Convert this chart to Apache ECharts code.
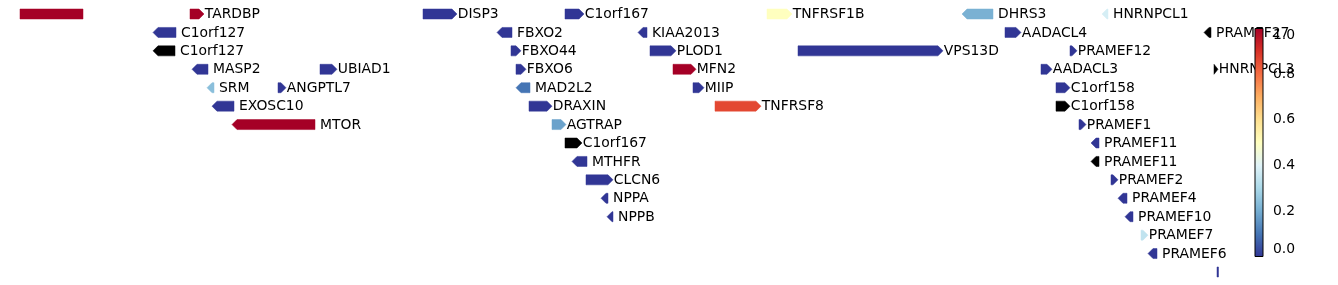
<!DOCTYPE html>
<html>
<head>
<meta charset="utf-8">
<script src="https://cdn.jsdelivr.net/npm/echarts@6/dist/echarts.min.js"></script>
<style>html,body{margin:0;padding:0;background:#fff}#c{width:1338px;height:285px}</style>
</head>
<body>
<div id="c"></div>
<script>
// ---- data (relative positions, 1 unit ≈ 1 px of track) ----
const genes   = ['', 'TARDBP', 'DISP3', 'C1orf167', 'TNFRSF1B', 'DHRS3', 'HNRNPCL1',
  'C1orf127', 'FBXO2', 'KIAA2013', 'AADACL4', 'PRAMEF27',
  'C1orf127', 'FBXO44', 'PLOD1', 'VPS13D', 'PRAMEF12',
  'MASP2', 'UBIAD1', 'FBXO6', 'MFN2', 'AADACL3', 'HNRNPCL3',
  'SRM', 'ANGPTL7', 'MAD2L2', 'MIIP', 'C1orf158',
  'EXOSC10', 'DRAXIN', 'TNFRSF8', 'C1orf158',
  'MTOR', 'AGTRAP', 'PRAMEF1',
  'C1orf167', 'PRAMEF11',
  'MTHFR', 'PRAMEF11',
  'CLCN6', 'PRAMEF2',
  'NPPA', 'PRAMEF4',
  'NPPB', 'PRAMEF10',
  'PRAMEF7',
  'PRAMEF6',
  ''];
const starts  = [0, 170, 403, 545, 747, 942, 1082,
  133, 477, 618, 985, 1184,
  133, 491, 630, 778, 1050,
  172, 300, 496, 653, 1021, 1194,
  187, 258, 496, 673, 1036,
  192, 509, 695, 1036,
  212, 532, 1059,
  545, 1071,
  552, 1071,
  566, 1091,
  581, 1098,
  587, 1105,
  1121,
  1128,
  1197];
const ends    = [63, 184, 437, 564, 772, 973, 1088,
  156, 492, 627, 1001, 1191,
  155, 501, 656, 923, 1057,
  188, 317, 506, 676, 1032, 1198,
  194, 266, 510, 684, 1050,
  214, 532, 741, 1050,
  295, 546, 1066,
  562, 1079,
  567, 1079,
  593, 1098,
  588, 1107,
  593, 1113,
  1128,
  1137,
  1198.5];
const strands = [0, 1, 1, 1, 1, -1, -1,
  -1, -1, -1, 1, -1,
  -1, 1, 1, 1, 1,
  -1, 1, 1, 1, 1, 1,
  -1, 1, -1, 1, 1,
  -1, 1, 1, 1,
  -1, 1, 1,
  1, -1,
  -1, -1,
  1, 1,
  -1, -1,
  -1, -1,
  1,
  -1,
  0];
const rows    = [0, 0, 0, 0, 0, 0, 0,
  1, 1, 1, 1, 1,
  2, 2, 2, 2, 2,
  3, 3, 3, 3, 3, 3,
  4, 4, 4, 4, 4,
  5, 5, 5, 5,
  6, 6, 6,
  7, 7,
  8, 8,
  9, 9,
  10, 10,
  11, 11,
  12,
  13,
  14];
// score (null = no value, drawn black)
const scores  = [1.0, 1.0, 0, 0, 0.5, 0.21, 0.38,
  0, 0, 0, 0, null,
  null, 0, 0, 0, 0,
  0, 0, 0, 1.0, 0, null,
  0.24, 0, 0.1, 0, 0,
  0, 0, 0.86, null,
  1.0, 0.18, 0,
  null, 0,
  0, null,
  0, 0,
  0, 0,
  0, 0,
  0.34,
  0,
  0];
const cbTicks = [0, 0.2, 0.4, 0.6, 0.8, 1.0];

// ---- colormap RdYlBu_r ----
const cmap = ['#313695','#4575b4','#74add1','#abd9e9','#e0f3f8','#ffffbf','#fee090','#fdae61','#f46d43','#d73027','#a50026'];
function hex2rgb(h){return [parseInt(h.slice(1,3),16),parseInt(h.slice(3,5),16),parseInt(h.slice(5,7),16)];}
function colorOf(v){
  if (v === null || v === undefined) return '#000000';
  v = Math.max(0, Math.min(1, v));
  const p = v * (cmap.length - 1), i = Math.min(Math.floor(p), cmap.length - 2), f = p - i;
  const a = hex2rgb(cmap[i]), b = hex2rgb(cmap[i+1]);
  return 'rgb(' + a.map((x,k)=>Math.round(x + (b[k]-x)*f)).join(',') + ')';
}

const data = genes.map((g,i)=>[starts[i], ends[i], rows[i], strands[i]]);
const FONT = 'DejaVu Sans';
const FS = 13.9;

function renderGene(params, api){
  const i = params.dataIndex;
  const s = api.value(0), e = api.value(1), r = api.value(2), st = api.value(3);
  const p0 = api.coord([s, r]), p1 = api.coord([e, r]);
  const y = p0[1], half = 5;
  let x0 = p0[0], x1 = p1[0];
  if (x1 - x0 < 1.5) x1 = x0 + 1.5;
  const len = x1 - x0, h = Math.min(5, len);
  let pts;
  if (st > 0) pts = [[x0,y-half],[x1-h,y-half],[x1,y],[x1-h,y+half],[x0,y+half]];
  else if (st < 0) pts = [[x0,y],[x0+h,y-half],[x1,y-half],[x1,y+half],[x0+h,y+half]];
  else pts = [[x0,y-half],[x1,y-half],[x1,y+half],[x0,y+half]];
  const col = colorOf(scores[i]);
  const children = [{type:'polygon', shape:{points:pts}, style:{fill:col, stroke:col, lineWidth:0.5}}];
  if (genes[i]) {
    children.push({type:'text', z2:5, style:{text:genes[i], x: x1 + (st > 0 ? 0.8 : 5), y: y + 0.5,
      fill:'#000', font: FS + 'px "' + FONT + '"', verticalAlign:'middle', align:'left'}});
  }
  return {type:'group', children};
}

function renderBar(params, api){
  const a = api.coord([0, 0]), b = api.coord([1, 1]);
  return {type:'rect', shape:{x:a[0], y:b[1], width:b[0]-a[0], height:a[1]-b[1]},
    style:{fill:new echarts.graphic.LinearGradient(0,1,0,0, cmap.map((c,k)=>({offset:k/(cmap.length-1), color:c}))),
      stroke:'#000', lineWidth:1}};
}

const chart = echarts.init(document.getElementById('c'), null, {renderer:'canvas'});
chart.setOption({
  animation:false,
  backgroundColor:'#fff',
  grid:[
    {left:20, width:1220, top:4.8, height:276.4},
    {left:1255, width:8, top:28.5, height:228}
  ],
  xAxis:[
    {gridIndex:0, type:'value', min:0, max:1220, show:false},
    {gridIndex:1, type:'value', min:0, max:1, show:false}
  ],
  yAxis:[
    {gridIndex:0, type:'value', min:-0.5, max:14.5, inverse:true, show:false},
    {gridIndex:1, type:'value', min:0, max:1, interval:0.2, position:'right',
      axisLine:{show:true, lineStyle:{color:'#000', width:1}},
      axisTick:{show:true, length:4, lineStyle:{color:'#000', width:1}},
      splitLine:{show:false},
      axisLabel:{show:true, margin:10, color:'#000', fontFamily:FONT, fontSize:FS,
        formatter:v=>v.toFixed(1), verticalAlignMinLabel:'bottom', verticalAlignMaxLabel:'top'}}
  ],
  series:[
    {type:'custom', xAxisIndex:0, yAxisIndex:0, data:data, renderItem:renderGene, clip:false, z:2, silent:true},
    {type:'custom', xAxisIndex:1, yAxisIndex:1, data:[[0,0]], renderItem:renderBar, clip:false, z:10, silent:true}
  ]
});
</script>
</body>
</html>
